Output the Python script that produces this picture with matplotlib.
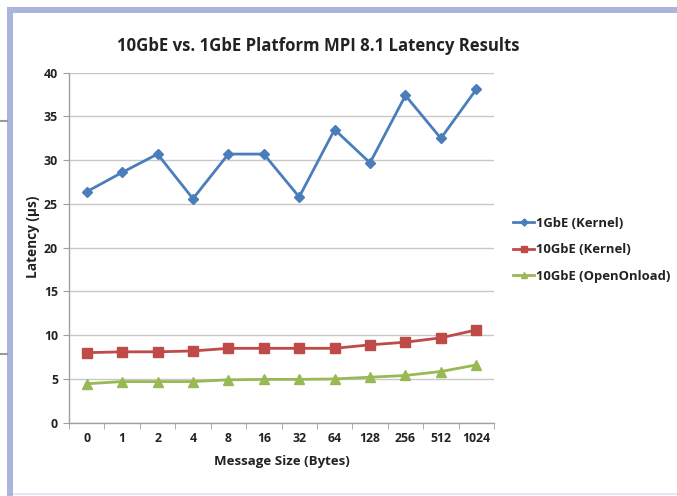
import numpy as np
import matplotlib
matplotlib.use('Agg')
import matplotlib.pyplot as plt
from matplotlib.patches import Rectangle
from matplotlib.lines import Line2D

sizes = ['0', '1', '2', '4', '8', '16', '32', '64', '128', '256', '512', '1024']
gbe1_kernel = [26.4, 28.6, 30.7, 25.6, 30.7, 30.7, 25.8, 33.5, 29.7, 37.4, 32.5, 38.1]
gbe10_kernel = [8.0, 8.1, 8.1, 8.2, 8.5, 8.5, 8.5, 8.5, 8.9, 9.2, 9.7, 10.6]
gbe10_onload = [4.45, 4.7, 4.7, 4.7, 4.9, 4.95, 4.95, 5.0, 5.2, 5.4, 5.85, 6.6]

W, H = 677, 496
fig = plt.figure(figsize=(W / 100, H / 100), dpi=100)
plt.rcParams['font.family'] = ['Open Sans', 'DejaVu Sans']

# frame around the chart (pixel coords -> figure fraction)
def px_rect(x0, y0, x1, y1, color):
    fig.patches.append(Rectangle((x0 / W, 1 - y1 / H), (x1 - x0) / W, (y1 - y0) / H,
                                 transform=fig.transFigure, facecolor=color,
                                 edgecolor='none', zorder=0))

px_rect(7, 7, W, 13, '#a9b5da')
px_rect(7, 7, 13, H, '#a9b5da')
px_rect(13, 493, W, 495, '#e4e6f3')
for yy in (121, 354):
    fig.lines.append(Line2D([0, 7 / W], [1 - yy / H, 1 - yy / H], transform=fig.transFigure,
                            color='#9a9a9a', lw=1.5))

ax = fig.add_axes([69 / W, 1 - 422.7 / H, (494 - 69) / W, (422.7 - 72.7) / H])
x = np.arange(len(sizes))

ax.plot(x, gbe1_kernel, color='#4a7ebb', lw=2, marker='D', ms=5.5, label='1GbE (Kernel)')
ax.plot(x, gbe10_kernel, color='#be4b48', lw=2, marker='s', ms=6.5, label='10GbE (Kernel)')
ax.plot(x, gbe10_onload, color='#98b954', lw=2, marker='^', ms=7, label='10GbE (OpenOnload)')

ax.set_xlim(-0.5, len(sizes) - 0.5)
ax.set_ylim(0, 40)
ax.set_yticks(np.arange(0, 41, 5))
ax.set_xticks(x)
ax.set_xticklabels(sizes)
ax.set_xticks(np.arange(-0.5, len(sizes), 1), minor=True)
ax.tick_params(axis='x', which='major', length=0, pad=7)
ax.tick_params(axis='x', which='minor', length=4, color='#a0a0a0', direction='out')
ax.tick_params(axis='y', length=4, color='#a0a0a0', direction='out', pad=4)
for lab in ax.get_xticklabels() + ax.get_yticklabels():
    lab.set_fontsize(8.8)
    lab.set_fontweight('bold')
    lab.set_color('#222222')

ax.grid(axis='y', color='#c8c8c8', lw=1)
ax.set_axisbelow(True)
for s in ('top', 'right'):
    ax.spines[s].set_visible(False)
for s in ('left', 'bottom'):
    ax.spines[s].set_color('#a0a0a0')
    ax.spines[s].set_linewidth(1)

ax.set_xlabel('Message Size (Bytes)', fontsize=9.5, fontweight='bold', color='#222222')
ax.xaxis.set_label_coords(0.5, -(455 - 422.7) / 350)
ax.set_ylabel('Latency (µs)', fontsize=9.8, fontweight='bold', color='#222222')
ax.yaxis.set_label_coords(-(69 - 40) / 425, (422.7 - 237) / 350)
fig.text(318 / W, 1 - 46 / H, '10GbE vs. 1GbE Platform MPI 8.1 Latency Results',
         ha='center', va='center', fontsize=12.1, fontweight='bold', color='#222222')

leg = ax.legend(loc='center left', bbox_to_anchor=(1.018, 0.494), frameon=False,
                fontsize=9.4, handlelength=1.6, handletextpad=0.15, labelspacing=1.05,
                markerscale=0.65)
for t in leg.get_texts():
    t.set_fontweight('bold')
    t.set_color('#222222')

fig.savefig('out.png', dpi=100)
